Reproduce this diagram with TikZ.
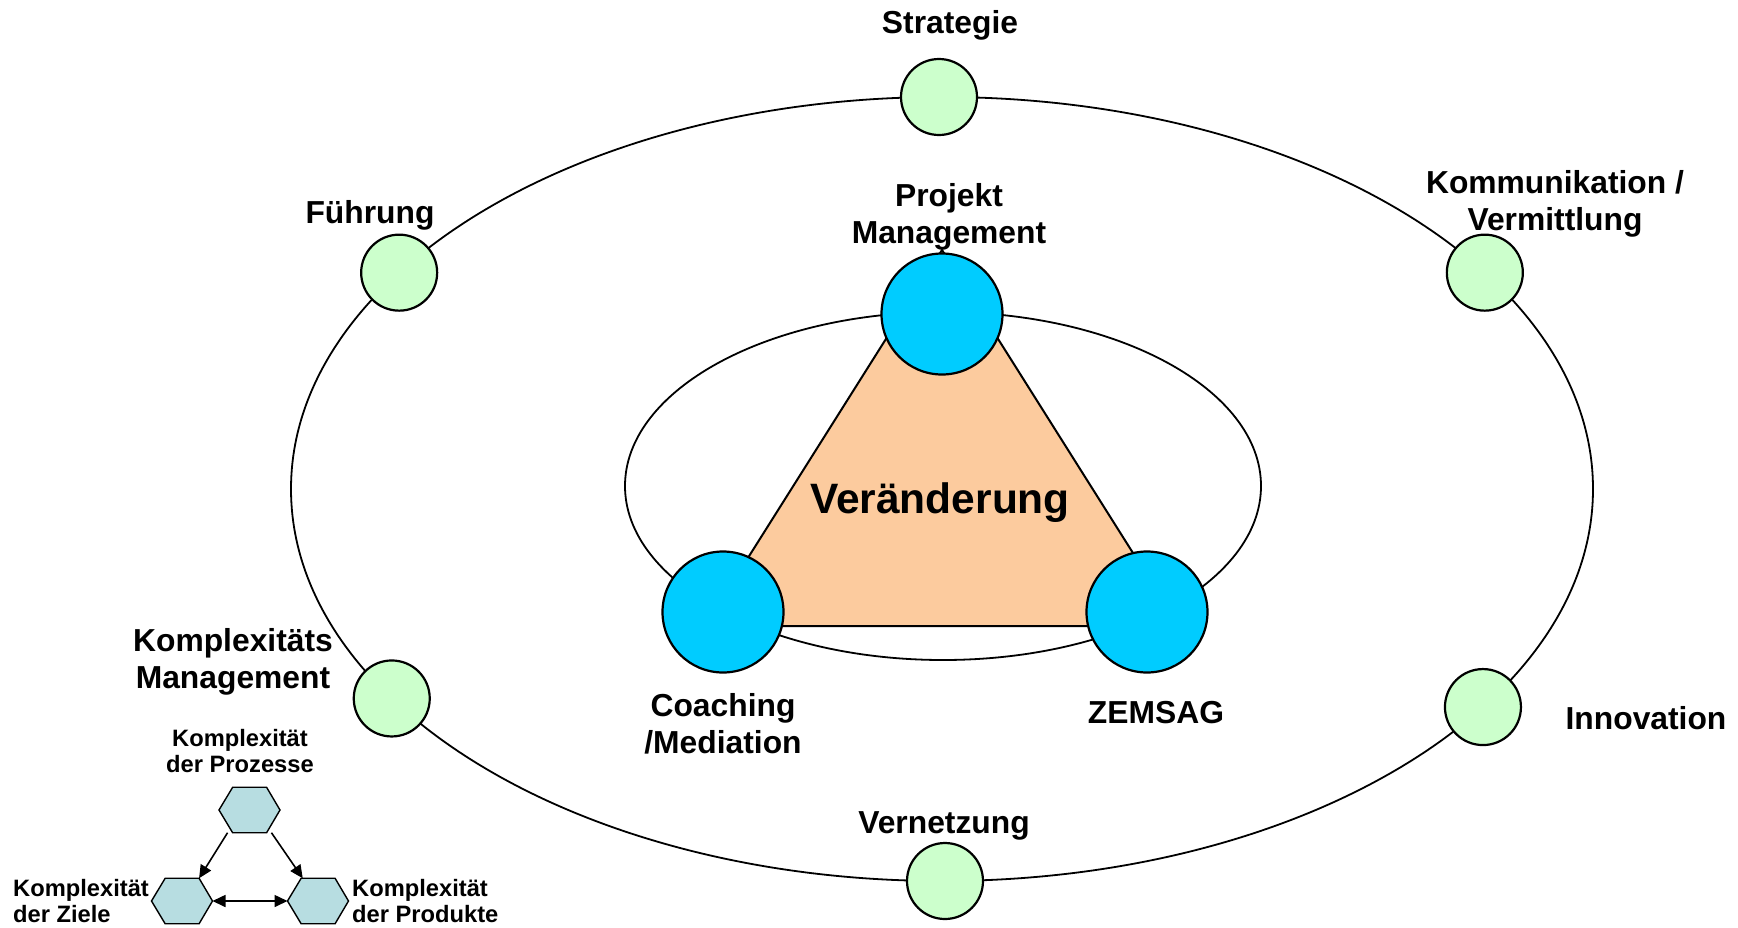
\documentclass[tikz,border=0pt]{standalone}
\usepackage{fontspec}
\setmainfont{Liberation Sans}
\usetikzlibrary{calc,arrows.meta}
\definecolor{lgreen}{HTML}{CCFFCC}
\definecolor{cyanb}{HTML}{00CCFF}
\definecolor{peach}{HTML}{FCCB9E}
\definecolor{hexc}{HTML}{B7DDE1}
\begin{document}
\begin{tikzpicture}[x=1pt,y=-1pt,
  ring/.style={draw,line width=1.8pt},
  gc/.style={circle,draw,line width=2.2pt,fill=lgreen,minimum size=76pt,inner sep=0pt},
  bc/.style={circle,draw,line width=2.2pt,fill=cyanb,minimum size=121pt,inner sep=0pt},
  lab/.style={font=\fontsize{31.8}{37.5}\selectfont\bfseries,align=center,inner sep=0pt},
  slab/.style={font=\fontsize{23.7}{26.5}\selectfont\bfseries,inner sep=0pt},
  hexbox/.style={rectangle,minimum width=61pt,minimum height=45.5pt,inner sep=0pt,outer sep=0pt},
  hexline/.style={draw,line width=1.4pt,fill=hexc,line join=miter},
  arr/.style={line width=1.6pt,-{Triangle[length=13pt,width=12pt]}},
  darr/.style={line width=1.6pt,{Triangle[length=13pt,width=12pt]}-{Triangle[length=13pt,width=12pt]}}]
\useasboundingbox (0,0) rectangle (1738,927);

% outer ellipse and green circles
\coordinate (C) at (942,489);
\draw[ring] (C) ellipse [x radius=651pt, y radius=392pt];
\node[gc] (strat) at ($(C)+(90:651pt and 392pt)+(-3pt,0)$) {};
\node[gc] (fuehr) at ($(C)+(146.5:651pt and 392pt)$) {};
\node[gc] (komm)  at ($(C)+(33.5:651pt and 392pt)$) {};
\node[gc] (kompl) at ($(C)+(212.3:651pt and 392pt)$) {};
\node[gc] (innov) at ($(C)+(326.2:651pt and 392pt)$) {};
\node[gc] (vern)  at ($(C)+(270:651pt and 392pt)+(3pt,0)$) {};

% inner ellipse, triangle, blue circles
\draw[ring] (943,486) ellipse [x radius=318pt, y radius=174pt];
\fill[peach] (942,250) -- (705,626) -- (1179,626) -- cycle;
\draw[line width=2pt,line join=miter] (942,250) -- (705,626) -- (1179,626) -- cycle;
\node[bc] (pm) at (942,314) {};
\node[bc] (coach) at (723,612) {};
\node[bc] (zem) at (1147,612) {};
\node[font=\fontsize{42.5}{48}\selectfont\bfseries,inner sep=0pt] (ver) at (940,503) {Veränderung};

% labels
\node[lab] (lstrat) at (950,25) {Strategie};
\node[lab] (lpm) at (949,217) {Projekt\\Management};
\node[lab] (lfuehr) at (370,215) {Führung};
\node[lab] (lkomm) at (1555,204) {Kommunikation /\\Vermittlung};
\node[lab] (lkompl) at (233,662) {Komplexitäts\\Management};
\node[lab] (lcoach) at (723,724) {Coaching\\/Mediation};
\node[lab] (lzem) at (1156,713) {ZEMSAG};
\node[lab] (linnov) at (1646,718) {Innovation};
\node[lab] (lvern) at (944,826) {Vernetzung};

% small hexagon diagram
\node[hexbox] (hp) at (249.5,810) {};
\node[hexbox] (hz) at (182,901) {};
\node[hexbox] (hd) at (318,901) {};
\foreach \n in {hp,hz,hd}
  \path[hexline] (\n.west) -- ($(\n.north west)!0.224!(\n.north east)$)
    -- ($(\n.north west)!0.78!(\n.north east)$) -- (\n.east)
    -- ($(\n.south west)!0.78!(\n.south east)$)
    -- ($(\n.south west)!0.224!(\n.south east)$) -- cycle;
\draw[arr] ($(hp.south west)!0.14!(hp.south east)$) -- ($(hz.north west)!0.78!(hz.north east)$);
\draw[arr] ($(hp.south west)!0.86!(hp.south east)$) -- ($(hd.north west)!0.25!(hd.north east)$);
\draw[darr] (hz.east) -- (hd.west);

\node[slab,align=center] (lhp) at (240,751) {Komplexität\\der Prozesse};
\node[slab,align=left,anchor=west] (lhz) at (13,901) {Komplexität\\der Ziele};
\node[slab,align=left,anchor=west] (lhd) at (352,901) {Komplexität\\der Produkte};
\end{tikzpicture}
\end{document}
